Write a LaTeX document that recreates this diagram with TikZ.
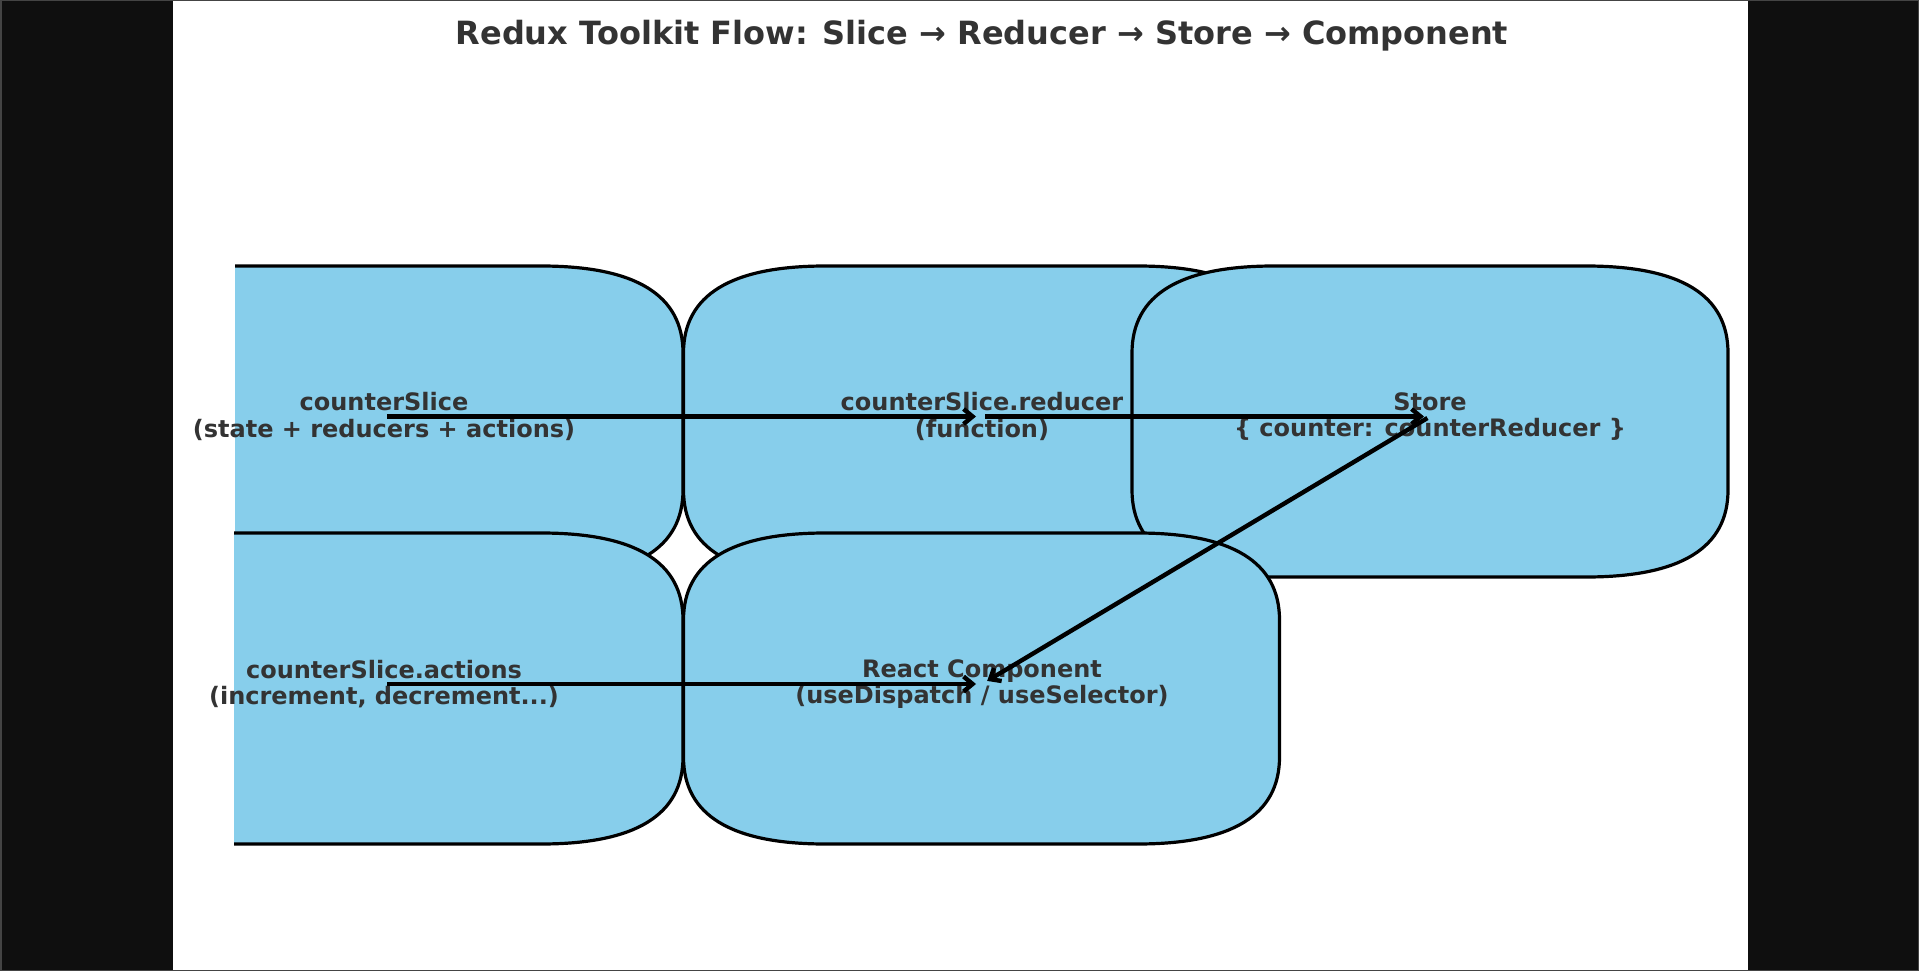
\documentclass[tikz,border=0pt]{standalone}
\usepackage{fontspec}
\setmainfont{DejaVu Sans}
\usetikzlibrary{arrows.meta}
\definecolor{skyfill}{HTML}{87CEEB}
\definecolor{txtgray}{HTML}{333333}
\definecolor{darkbg}{HTML}{0F0F0F}
\definecolor{framegray}{HTML}{444444}
\tikzset{
  boxshape/.style={fill=skyfill, draw=black, line width=3.2pt, line join=round},
  txt/.style={inner sep=0pt, align=center, text=txtgray, font=\fontsize{24}{26.7}\selectfont\bfseries},
  ttl/.style={inner sep=0pt, anchor=base, text=txtgray, font=\fontsize{32}{38}\selectfont\bfseries},
  arr/.style={draw=black, line width=4.4pt, -{Straight Barb[length=9pt,width=15pt]}, shorten <=3pt, shorten >=6pt}
}
% box: half width 298, half height 155.5, corner radii 142 (x) and 87 (y), quadratic corners
\newcommand{\flowbox}[2]{%
  \filldraw[boxshape] ({#1-156},{#2-155.5}) -- ({#1+156},{#2-155.5})
    .. controls ({#1+250.67},{#2-155.5}) and ({#1+298},{#2-126.5}) .. ({#1+298},{#2-68.5})
    -- ({#1+298},{#2+68.5})
    .. controls ({#1+298},{#2+126.5}) and ({#1+250.67},{#2+155.5}) .. ({#1+156},{#2+155.5})
    -- ({#1-156},{#2+155.5})
    .. controls ({#1-250.67},{#2+155.5}) and ({#1-298},{#2+126.5}) .. ({#1-298},{#2+68.5})
    -- ({#1-298},{#2-68.5})
    .. controls ({#1-298},{#2-126.5}) and ({#1-250.67},{#2-155.5}) .. ({#1-156},{#2-155.5}) -- cycle;%
}
\begin{document}
\begin{tikzpicture}[x=1pt,y=-1pt]
  \useasboundingbox (0,0) rectangle (1919,971);
  \fill[darkbg] (0,0) rectangle (1919,971);
  \fill[white] (173,0) rectangle (1748,971);
  \draw[framegray, line width=1.5pt] (0.75,0.75) rectangle (1918.25,970.25);

  \node[ttl] (title) at (982,45) {Redux Toolkit Flow: Slice → Reducer → Store → Component};

  % boxes
  \begin{scope}
    \clip (235,0) rectangle (1919,971);
    \flowbox{385}{421.5}
  \end{scope}
  \flowbox{981.5}{421.5}
  \flowbox{1430}{421.5}
  \begin{scope}
    \clip (234,0) rectangle (1919,971);
    \flowbox{385}{688.5}
  \end{scope}
  \flowbox{981.5}{688.5}

  % texts
  \node[txt] (a) at (384,416.5) {counterSlice\\(state + reducers + actions)};
  \node[txt] (b) at (982,416.5) {counterSlice.reducer\\(function)};
  \node[txt] (c) at (1430,416.5) {Store\\\{ counter: counterReducer \}};
  \node[txt] (d) at (384,684) {counterSlice.actions\\(increment, decrement...)};
  \node[txt] (e) at (982,684) {React Component\\(useDispatch / useSelector)};

  % arrows
  \draw[arr] (a.center) -- (b.center);
  \draw[arr] (b.center) -- (c.center);
  \draw[arr] (c.center) -- (e.center);
  \draw[arr] (d.center) -- (e.center);
\end{tikzpicture}
\end{document}
